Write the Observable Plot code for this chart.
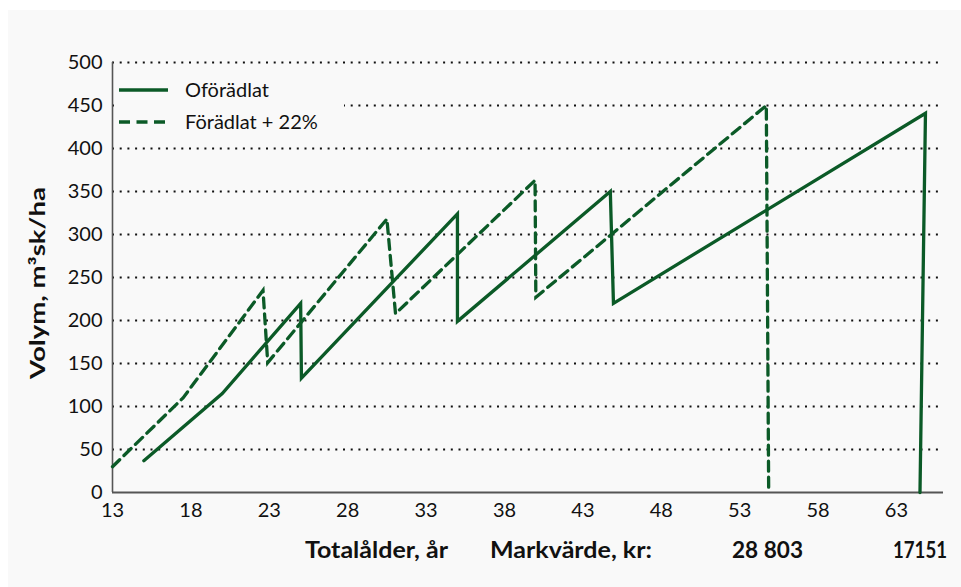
<!DOCTYPE html>
<html>
<head>
<meta charset="utf-8">
<script src="https://cdn.jsdelivr.net/npm/d3@7"></script>
<script src="https://cdn.jsdelivr.net/npm/@observablehq/plot@0.6"></script>
<style>
  html, body { margin: 0; padding: 0; background: #ffffff; }
  #wrap { position: relative; width: 961px; height: 587px; overflow: hidden; background: #ffffff; }
  #panel { position: absolute; left: 8px; top: 10px; width: 953px; height: 577px; background: #f9f9f9; }
  #chart { position: absolute; left: 0; top: 0; }
  #legend { position: absolute; left: 114px; top: 68px; width: 230px; height: 74px; background: #f9f9f9; }
</style>
</head>
<body>
<div id="wrap">
  <div id="panel"></div>
  <div id="chart"></div>
  <svg id="legend" width="230" height="74"></svg>
</div>
<script>
// ---- data ----
const seriesNames = ["Oförädlat", "Förädlat + 22%"];
const agesSolid  = [15, 20, 25, 25.05, 35, 35, 44.75, 44.95, 64.85, 64.5];
const volSolid   = [37, 115, 220, 133, 324, 199, 350, 220, 441, 0];
const agesDashed = [13, 17.5, 22.6, 22.9, 30.5, 31.05, 39.95, 40.0, 54.7, 54.85];
const volDashed  = [30, 110, 235, 151, 318, 208, 363, 227, 450, 0];
const xTicks = [13, 18, 23, 28, 33, 38, 43, 48, 53, 58, 63];
const yTicks = [0, 50, 100, 150, 200, 250, 300, 350, 400, 450, 500];
const gridValues = yTicks.filter(d => d > 0);

const green = "#0b5a27";
const solid = agesSolid.map((a, i) => ({age: a, vol: volSolid[i]}));
const dashed = agesDashed.map((a, i) => ({age: a, vol: volDashed[i]}));

const chart = Plot.plot({
  width: 961,
  height: 587,
  marginLeft: 112,
  marginRight: 18,
  marginTop: 62,
  marginBottom: 95,
  style: {background: "transparent", fontFamily: "Lato, 'Open Sans', sans-serif", fontSize: "20px", color: "#111"},
  x: {domain: [13, 66], ticks: xTicks, tickSize: 0, tickPadding: 10, label: null, tickFormat: d => String(d)},
  y: {domain: [0, 500], ticks: yTicks, tickSize: 0, tickPadding: 10, label: null, tickFormat: d => String(d)},
  marks: [
    Plot.ruleY(gridValues, {x1: 13, x2: 66, stroke: "#111", strokeWidth: 2, strokeDasharray: "2,5.7"}),
    Plot.ruleX([13], {y1: 0, y2: 500, stroke: "#555", strokeWidth: 1.6}),
    Plot.ruleY([0], {x1: 13, x2: 66, stroke: "#555", strokeWidth: 2}),
    Plot.line(solid, {x: "age", y: "vol", stroke: green, strokeWidth: 3.3, strokeLinejoin: "miter", strokeMiterlimit: 20, curve: "linear"}),
    Plot.line(dashed, {x: "age", y: "vol", stroke: green, strokeWidth: 3.3, strokeDasharray: "10,6", strokeLinejoin: "miter", strokeMiterlimit: 20, curve: "linear"})
  ]
});
document.getElementById("chart").appendChild(chart);

const svg = d3.select(chart);
// y axis title
svg.append("text")
  .attr("transform", "translate(45,283) rotate(-90)")
  .attr("text-anchor", "middle")
  .attr("font-family", "Lato, sans-serif")
  .attr("font-weight", "bold")
  .attr("font-size", "21px")
  .attr("fill", "#111")
  .attr("textLength", 192)
  .attr("lengthAdjust", "spacingAndGlyphs")
  .text("Volym, m³sk/ha");

// bottom labels
const bottomLabels = [
  {t: "Totalålder, år", x: 305, len: 143},
  {t: "Markvärde, kr:", x: 490, len: 162},
  {t: "28 803", x: 732, len: 71},
  {t: "17151", x: 893, len: 54}
];
svg.append("g").attr("text-anchor", "start").selectAll("text").data(bottomLabels).join("text")
  .attr("x", d => d.x)
  .attr("y", 558)
  .attr("text-anchor", "start")
  .attr("font-family", "Lato, sans-serif")
  .attr("font-weight", "bold")
  .attr("font-size", "22px")
  .attr("fill", "#111")
  .attr("textLength", d => d.len)
  .attr("lengthAdjust", "spacingAndGlyphs")
  .text(d => d.t);

// legend
const lg = d3.select("#legend");
const items = [{name: seriesNames[0], dash: null, y: 22}, {name: seriesNames[1], dash: "11,6.5", y: 54}];
items.forEach(it => {
  lg.append("line").attr("x1", 5).attr("x2", 54).attr("y1", it.y).attr("y2", it.y)
    .attr("stroke", green).attr("stroke-width", 3.3).attr("stroke-dasharray", it.dash);
  lg.append("text").attr("x", 71).attr("y", it.y + 7)
    .attr("font-family", "Lato, sans-serif").attr("font-size", "20px").attr("fill", "#111")
    .text(it.name);
});
</script>
</body>
</html>
